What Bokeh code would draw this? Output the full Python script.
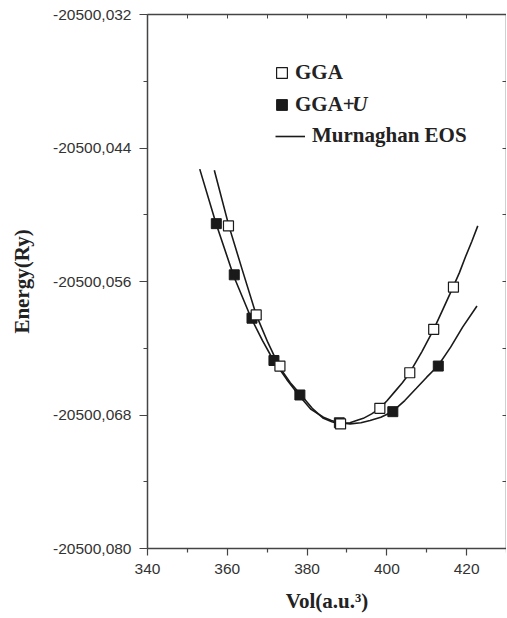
from bokeh.plotting import figure
from bokeh.models import (Range1d, FixedTicker, CustomJSTickFormatter, LinearAxis,
                          Legend, LegendItem, Label)
from bokeh.embed import file_html
from bokeh.resources import INLINE

# ---- data ----
gga_vol = [360.3, 367.25, 373.2, 388.4, 398.25, 405.75, 411.75, 416.7]
gga_e = [-20500.0510, -20500.0590, -20500.0636, -20500.0688,
         -20500.0674, -20500.0642, -20500.0603, -20500.0565]

ggau_vol = [357.25, 361.75, 366.2, 371.7, 378.2, 388.1, 401.5, 412.9]
ggau_e = [-20500.0508, -20500.0554, -20500.0593, -20500.0631,
          -20500.0662, -20500.0687, -20500.0677, -20500.0636]

# Murnaghan EOS fit curves
fit_gga_vol = [356.75, 360.4, 363.8, 367.25, 370.2, 373.1, 375.8, 378.5, 381.3, 384.1,
               386.2, 388.25, 390.75, 392.4, 394.1, 396.2, 398.25, 400.1, 402.0, 403.9,
               405.75, 408.8, 411.75, 414.2, 416.6, 418.2, 419.7, 421.3, 422.8]
fit_gga_e = [-20500.0460, -20500.0510, -20500.0550, -20500.0590, -20500.0615, -20500.0637,
             -20500.0651, -20500.0662, -20500.0674, -20500.0683, -20500.0686, -20500.0688,
             -20500.0687, -20500.0685, -20500.0683, -20500.0679, -20500.0674, -20500.0667,
             -20500.0659, -20500.0651, -20500.0642, -20500.0623, -20500.0603, -20500.0584,
             -20500.0565, -20500.0552, -20500.0538, -20500.0524, -20500.0510]

fit_ggau_vol = [353.1, 357.2, 361.6, 366.0, 368.8, 371.6, 374.9, 378.1, 381.0, 384.1,
                386.1, 388.1, 390.8, 393.5, 395.8, 398.5, 401.4, 404.5, 407.4, 410.0,
                412.8, 416.0, 419.0, 422.6]
fit_ggau_e = [-20500.0459, -20500.0508, -20500.0555, -20500.0593, -20500.0613, -20500.0631,
              -20500.0648, -20500.0663, -20500.0675, -20500.0682, -20500.0685, -20500.0687,
              -20500.0688, -20500.0687, -20500.0685, -20500.0682, -20500.0677, -20500.0667,
              -20500.0656, -20500.0646, -20500.0636, -20500.0619, -20500.0601, -20500.0582]

x_ticks = [340, 360, 380, 400, 420]
x_minor = [350, 370, 390, 410, 430]
y_ticks = [-20500.080, -20500.068, -20500.056, -20500.044, -20500.032]
y_minor = [-20500.074, -20500.062, -20500.050, -20500.038]

AX = "#444444"
TXT = "#333333"
SERIF = "Liberation Serif"
SANS = "Liberation Sans"

p = figure(frame_width=359, frame_height=534, output_backend="svg", toolbar_location=None,
           x_range=Range1d(340, 430), y_range=Range1d(-20500.080, -20500.032),
           x_axis_location=None, y_axis_location=None,
           min_border_left=147, min_border_top=14, min_border_bottom=66, min_border_right=0)
p.outline_line_color = None
p.xgrid.visible = False
p.ygrid.visible = False
p.background_fill_color = "white"
p.border_fill_color = "white"

fmt = CustomJSTickFormatter(code="return tick.toFixed(3).replace('.', ',');")
blank = CustomJSTickFormatter(code="return '';")

xb = LinearAxis(ticker=FixedTicker(ticks=x_ticks, minor_ticks=x_minor), axis_label="Vol(a.u.³)")
yl = LinearAxis(ticker=FixedTicker(ticks=y_ticks, minor_ticks=y_minor), axis_label="Energy(Ry)",
                formatter=fmt)
for ax, mo, mi in ((xb, 7, 4), (yl, 8, 4)):
    ax.axis_line_color = AX
    ax.axis_line_width = 1.5
    ax.major_tick_line_color = AX
    ax.minor_tick_line_color = AX
    ax.major_tick_line_width = 1.2
    ax.minor_tick_line_width = 1.2
    ax.major_tick_out = mo
    ax.major_tick_in = 0
    ax.minor_tick_out = mi
    ax.minor_tick_in = 0
    ax.major_label_text_font = SANS
    ax.major_label_text_font_size = "15.5px"
    ax.major_label_text_color = TXT
    ax.major_label_standoff = 8
    ax.axis_label_text_font = SERIF
    ax.axis_label_text_font_style = "bold"
    ax.axis_label_text_font_size = "21px"
    ax.axis_label_text_color = "#222222"
xb.axis_label_standoff = 12
yl.axis_label_standoff = 16
p.add_layout(xb, "below")
p.add_layout(yl, "left")

xt = LinearAxis(ticker=FixedTicker(ticks=x_ticks, minor_ticks=x_minor), formatter=blank)
yr = LinearAxis(ticker=FixedTicker(ticks=y_ticks, minor_ticks=y_minor), formatter=blank)
for ax in (xt, yr):
    ax.axis_line_color = AX
    ax.axis_line_width = 1.5
    ax.major_tick_line_color = AX
    ax.minor_tick_line_color = AX
    ax.major_tick_in = 4
    ax.major_tick_out = 0
    ax.minor_tick_in = 4
    ax.minor_tick_out = 0
    ax.major_label_standoff = 0
    ax.axis_label = None
p.add_layout(xt, "above")
p.add_layout(yr, "right")

line_u = p.line(fit_ggau_vol, fit_ggau_e, line_color="#1a1a1a", line_width=1.6)
line_g = p.line(fit_gga_vol, fit_gga_e, line_color="#1a1a1a", line_width=1.6)
sq_u = p.scatter(ggau_vol, ggau_e, marker="square", size=10, fill_color="#1a1a1a",
                 line_color="#1a1a1a", line_width=1)
sq_g = p.scatter(gga_vol, gga_e, marker="square", size=10, fill_color="white",
                 line_color="#1a1a1a", line_width=1.2)

def mk_legend(items, gw, gh, spacing, standoff, loc):
    lg = Legend(items=items, location=loc, glyph_width=gw, glyph_height=gh, label_height=20,
                spacing=spacing, padding=0, margin=0, label_standoff=standoff,
                border_line_color=None, background_fill_alpha=0)
    lg.label_text_font = SERIF
    lg.label_text_font_style = "bold"
    lg.label_text_font_size = "21px"
    lg.label_text_color = "#222222"
    p.add_layout(lg)

mk_legend([LegendItem(label="GGA", renderers=[sq_g]),
           LegendItem(label="GGA+", renderers=[sq_u])], 27, 27, 5, -5, (121, 430))
mk_legend([LegendItem(label="Murnaghan EOS", renderers=[line_g])], 30, 20, 0, 7, (128, 400))

p.add_layout(Label(x=391.3, y=-20500.0400, text="U", text_font=SERIF,
                   text_font_style="bold italic", text_font_size="21px",
                   text_color="#222222", text_baseline="middle", text_align="left"))

open("out.html", "w").write(file_html(p, INLINE))
